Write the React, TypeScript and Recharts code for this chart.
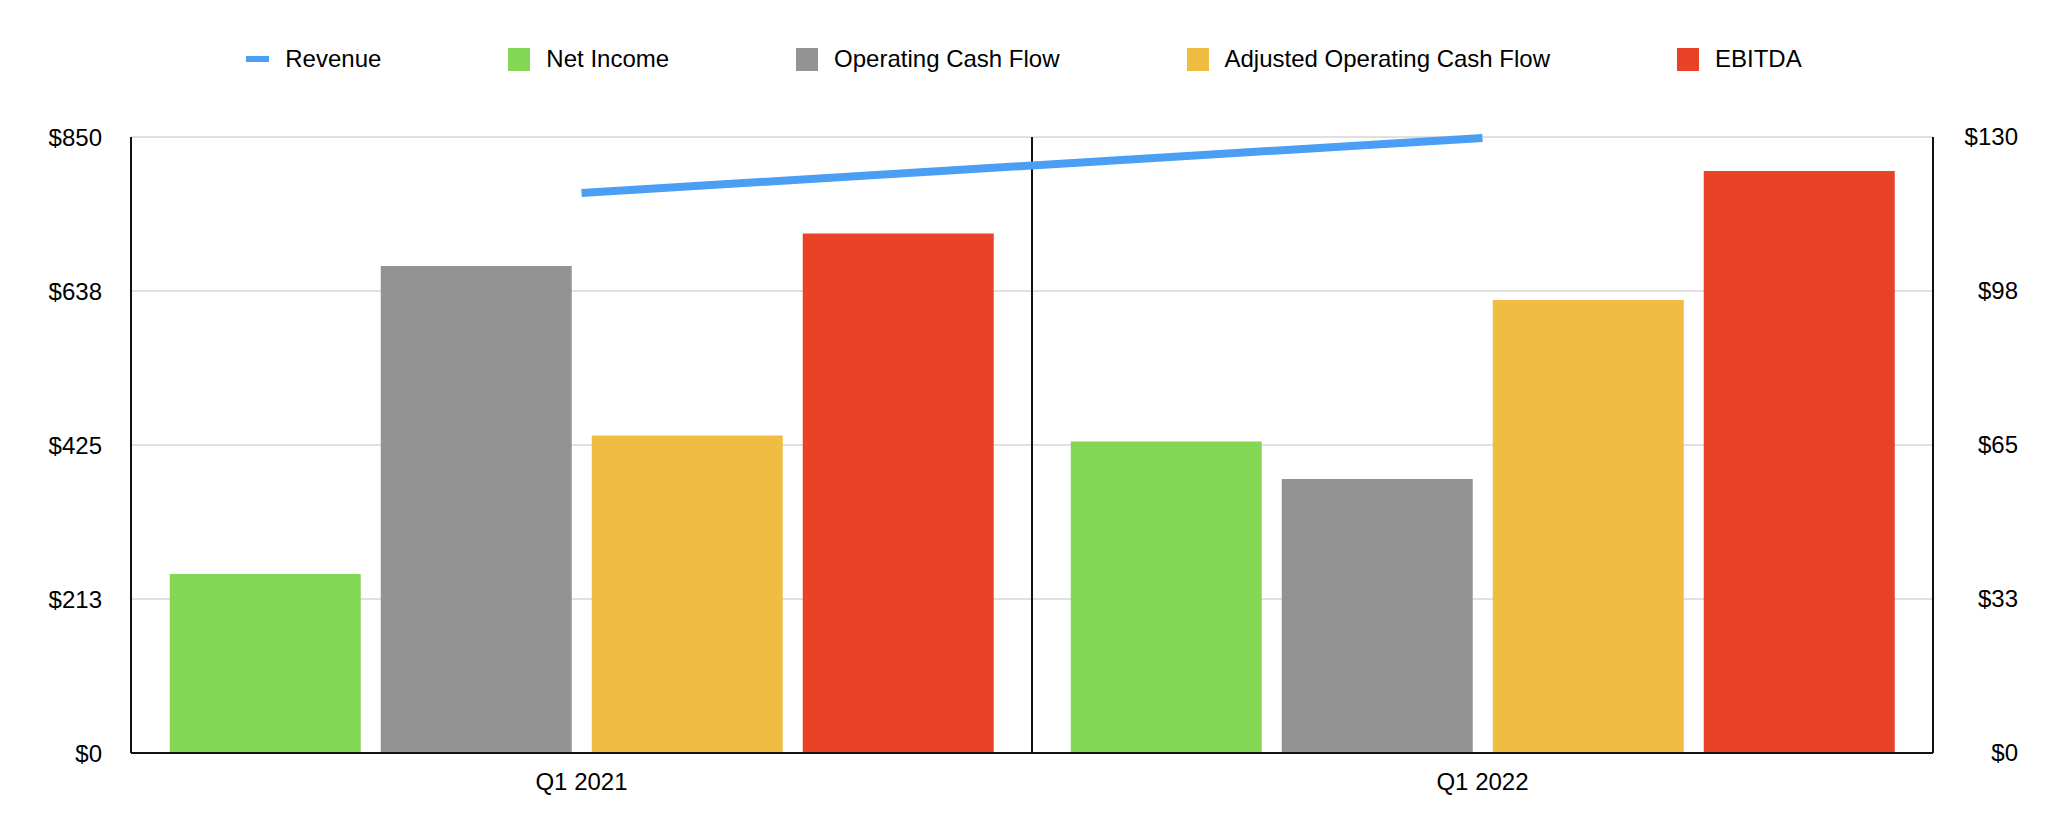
import React from 'react';
import {
  ComposedChart,
  Bar,
  Line,
  XAxis,
  YAxis,
  CartesianGrid,
} from 'recharts';

const quarters = ['Q1 2021', 'Q1 2022'];
const revenue = [118.2, 129.8];
const netIncome = [247, 430];
const operatingCashFlow = [672, 378];
const adjustedOperatingCashFlow = [438, 625];
const ebitda = [717, 803];

const leftTicks = [0, 212.5, 425, 637.5, 850];
const rightTicks = [0, 32.5, 65, 97.5, 130];

const FONT = '"Liberation Sans", Arial, Helvetica, sans-serif';

const COLORS = {
  revenue: '#4a9ff5',
  netIncome: '#84d655',
  ocf: '#939393',
  aocf: '#eebd42',
  ebitda: '#e94227',
};

const legendItems = [
  { name: 'Revenue', color: COLORS.revenue, kind: 'line' },
  { name: 'Net Income', color: COLORS.netIncome, kind: 'square' },
  { name: 'Operating Cash Flow', color: COLORS.ocf, kind: 'square' },
  { name: 'Adjusted Operating Cash Flow', color: COLORS.aocf, kind: 'square' },
  { name: 'EBITDA', color: COLORS.ebitda, kind: 'square' },
];

const data = quarters.map((q, i) => ({
  quarter: q,
  revenue: revenue[i],
  netIncome: netIncome[i],
  ocf: operatingCashFlow[i],
  aocf: adjustedOperatingCashFlow[i],
  ebitda: ebitda[i],
}));

const money = (v: number) => `$${Math.round(v)}`;

function RightTick({ x, y, payload }: { x?: number; y?: number; payload?: { value: number } }) {
  return (
    <text
      x={(x ?? 0) + 83}
      y={y}
      dy={8}
      textAnchor="end"
      fontSize={24}
      fontFamily={FONT}
      fill="#000"
    >
      {money(payload?.value ?? 0)}
    </text>
  );
}

// single divider between the two quarters, placed at the middle of the plot
const dividerAt = ({ offset }: { offset: { left: number; width: number } }) => [
  offset.left + offset.width / 2,
];

function ChartLegend() {
  return (
    <div
      style={{
        position: 'absolute',
        top: 44,
        left: 0,
        width: 2048,
        display: 'flex',
        justifyContent: 'center',
        gap: 127,
        fontFamily: FONT,
        fontSize: 24,
        lineHeight: '30px',
        color: '#000',
      }}
    >
      {legendItems.map((it) => (
        <div key={it.name} style={{ display: 'flex', alignItems: 'center', gap: 16 }}>
          {it.kind === 'line' ? (
            <span style={{ width: 23, height: 6, background: it.color, display: 'inline-block' }} />
          ) : (
            <span style={{ width: 22, height: 23, background: it.color, display: 'inline-block' }} />
          )}
          <span>{it.name}</span>
        </div>
      ))}
    </div>
  );
}

export default function App() {
  return (
    <div style={{ position: 'absolute', left: 0, top: 0, width: 2068, height: 838, background: '#fff' }}>
      <ChartLegend />
      <ComposedChart
        width={2068}
        height={838}
        data={data}
        margin={{ top: 137, right: 0, bottom: 0, left: 0 }}
        barCategoryGap="4.3%"
        barGap={20}
      >
        <CartesianGrid vertical={false} stroke="#c2c2c2" strokeWidth={1} />
        <CartesianGrid
          horizontal={false}
          verticalCoordinatesGenerator={dividerAt as any}
          stroke="#111"
          strokeWidth={2}
        />
        <XAxis
          dataKey="quarter"
          height={85}
          tickLine={false}
          tickSize={0}
          tickMargin={20}
          axisLine={{ stroke: '#111', strokeWidth: 2 }}
          tick={{ fontSize: 24, fontFamily: FONT, fill: '#000' }}
        />
        <YAxis
          width={131}
          domain={[0, 850]}
          ticks={leftTicks}
          interval={0}
          tickFormatter={money}
          tickLine={false}
          tickSize={0}
          tickMargin={29}
          axisLine={{ stroke: '#111', strokeWidth: 2 }}
          tick={{ fontSize: 24, fontFamily: FONT, fill: '#000' }}
        />
        <YAxis
          yAxisId="right"
          orientation="right"
          width={135}
          domain={[0, 130]}
          ticks={rightTicks}
          interval={0}
          tickLine={false}
          tickSize={0}
          axisLine={{ stroke: '#111', strokeWidth: 2 }}
          tick={<RightTick />}
        />
        <Bar dataKey="netIncome" name="Net Income" fill={COLORS.netIncome} isAnimationActive={false} />
        <Bar dataKey="ocf" name="Operating Cash Flow" fill={COLORS.ocf} isAnimationActive={false} />
        <Bar dataKey="aocf" name="Adjusted Operating Cash Flow" fill={COLORS.aocf} isAnimationActive={false} />
        <Bar dataKey="ebitda" name="EBITDA" fill={COLORS.ebitda} isAnimationActive={false} />
        <Line
          yAxisId="right"
          dataKey="revenue"
          name="Revenue"
          stroke={COLORS.revenue}
          strokeWidth={8}
          strokeLinecap="butt"
          dot={false}
          activeDot={false}
          isAnimationActive={false}
        />
      </ComposedChart>
    </div>
  );
}
